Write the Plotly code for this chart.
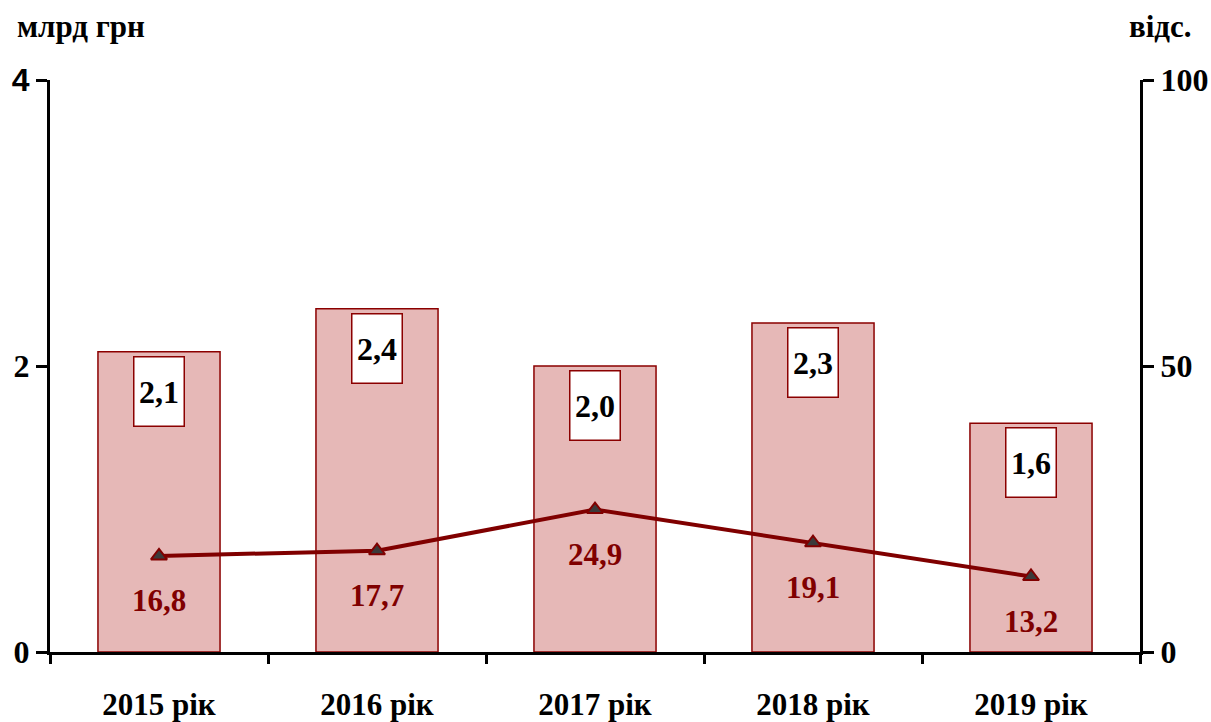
import plotly.graph_objects as go

categories = ["2015 рік", "2016 рік", "2017 рік", "2018 рік", "2019 рік"]
amount_bn = [2.1, 2.4, 2.0, 2.3, 1.6]
amount_labels = ["2,1", "2,4", "2,0", "2,3", "1,6"]
share_pct = [16.8, 17.7, 24.9, 19.1, 13.2]
share_labels = ["16,8", "17,7", "24,9", "19,1", "13,2"]
left_ticks = [0, 2, 4]
left_ticktext = ["0", "2", "<span style='font-family:Liberation Sans'>4</span>"]
right_ticks = [0, 50, 100]

SERIF = "Liberation Serif"
DARK_RED = "#800000"

W, H = 1211, 722
ml, mr, mt, mb = 50, 71, 80, 70
pw, ph = W - ml - mr, H - mt - mb


def px_to_paper(xp, yp):
    return (xp - ml) / pw, (H - mb - yp) / ph


fig = go.Figure()
fig.add_trace(go.Bar(
    x=categories, y=amount_bn, width=0.56,
    marker=dict(color="#E6B8B7", line=dict(color="#8B0000", width=1.5)),
    showlegend=False, hoverinfo="skip",
))
fig.add_trace(go.Scatter(
    x=categories, y=share_pct, yaxis="y2", mode="lines+markers",
    line=dict(color=DARK_RED, width=4),
    marker=dict(symbol="triangle-up", size=14, color="#3a3a3a",
                line=dict(color=DARK_RED, width=2)),
    showlegend=False, hoverinfo="skip",
))

for c, v, t in zip(categories, amount_bn, amount_labels):
    fig.add_annotation(
        x=c, y=v, xref="x", yref="y", text="<b>%s</b>" % t,
        showarrow=False, yanchor="top", yshift=-4,
        width=45, height=64, borderpad=2,
        bgcolor="white", bordercolor="#8B0000", borderwidth=1.5,
        font=dict(family=SERIF, size=32, color="black"),
    )
for c, v, t in zip(categories, share_pct, share_labels):
    fig.add_annotation(
        x=c, y=v, xref="x", yref="y2", text="<b>%s</b>" % t,
        showarrow=False, yanchor="middle", yshift=-45,
        font=dict(family=SERIF, size=31, color=DARK_RED),
    )

x1, y1 = px_to_paper(15, 27)
fig.add_annotation(x=x1, y=y1, xref="paper", yref="paper", text="<b>млрд грн</b>",
                   showarrow=False, xanchor="left", yanchor="middle",
                   font=dict(family=SERIF, size=31, color="black"))
x2, y2 = px_to_paper(1194, 27)
fig.add_annotation(x=x2, y=y2, xref="paper", yref="paper", text="<b>відс.</b>",
                   showarrow=False, xanchor="right", yanchor="middle",
                   font=dict(family=SERIF, size=31, color="black"))

fig.update_layout(
    width=W, height=H,
    margin=dict(l=ml, r=mr, t=mt, b=mb, autoexpand=False),
    plot_bgcolor="white", paper_bgcolor="white",
    font=dict(family=SERIF, color="black"),
    xaxis=dict(
        type="category", showline=True, linecolor="black", linewidth=3,
        ticks="outside", tickson="boundaries", ticklen=9, tickwidth=3, tickcolor="black",
        tickfont=dict(family=SERIF, size=31, color="black", weight="bold"),
        ticklabelstandoff=23, showgrid=False, zeroline=False, automargin=False,
    ),
    yaxis=dict(
        range=[0, 4], tickvals=left_ticks, ticktext=left_ticktext,
        showline=True, linecolor="black", linewidth=3,
        ticks="outside", ticklen=11, tickwidth=3, tickcolor="black",
        tickfont=dict(family=SERIF, size=32, color="black", weight="bold"),
        showgrid=False, zeroline=False, automargin=False,
    ),
    yaxis2=dict(
        range=[0, 100], tickvals=right_ticks, overlaying="y", side="right",
        showline=True, linecolor="black", linewidth=3,
        ticks="outside", ticklen=11, tickwidth=3, tickcolor="black",
        tickfont=dict(family=SERIF, size=32, color="black", weight="bold"),
        showgrid=False, zeroline=False, automargin=False,
    ),
)

fig.write_html("out.html", config={"displayModeBar": False},
               post_script="document.body.style.margin='0';document.body.style.overflow='hidden';")
